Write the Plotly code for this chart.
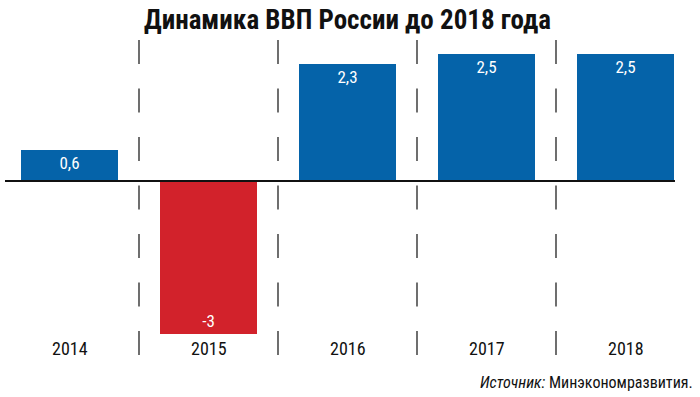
import plotly.graph_objects as go

years = ["2014", "2015", "2016", "2017", "2018"]
values = [0.6, -3, 2.3, 2.5, 2.5]
labels = ["0,6", "-3", "2,3", "2,5", "2,5"]
colors = ["#0563A9" if v >= 0 else "#D2222B" for v in values]

FONT = "Liberation Sans Narrow, Roboto Condensed, DejaVu Sans Condensed, Arial Narrow, sans-serif"

fig = go.Figure()
fig.add_trace(go.Bar(
    x=list(range(len(years))), y=values,
    marker=dict(color=colors, line=dict(width=0)),
    width=0.7,
    text=labels, textposition="inside", insidetextanchor="end",
    textfont=dict(family=FONT, size=17, color="white"),
    cliponaxis=False, hoverinfo="skip",
))

ymin, ymax = -3.43, 2.765
shapes = []
for i in range(len(years) - 1):
    shapes.append(dict(type="line", xref="x", yref="y", x0=i + 0.5, x1=i + 0.5,
                       y0=ymax, y1=ymin, line=dict(color="#222", width=1.3, dash="24px,24.5px")))
shapes.append(dict(type="line", xref="x", yref="y", x0=-0.464, x1=4.356, y0=0, y1=0,
                   line=dict(color="#111", width=2)))

annotations = []
for i, yr in enumerate(years):
    annotations.append(dict(x=i, y=-3.29, xref="x", yref="y", text=yr, showarrow=False,
                            font=dict(family=FONT, size=18, color="#111"), yanchor="middle"))
annotations.append(dict(x=1, y=0, xref="paper", yref="paper", xanchor="right", yanchor="top",
                        yshift=-15, xshift=0, showarrow=False,
                        text="<i>Источник:</i> Минэкономразвития.",
                        font=dict(family=FONT, size=16, color="#111")))

fig.update_layout(
    width=700, height=397,
    margin=dict(l=0, r=5, t=40, b=41),
    paper_bgcolor="white", plot_bgcolor="white",
    title=dict(text="<b>Динамика ВВП России до 2018 года</b>", x=0.5, xanchor="center",
               y=1 - 20 / 397, yanchor="middle", xref="paper",
               font=dict(family=FONT, size=27, color="#111")),
    xaxis=dict(range=[-0.5, 4.5], visible=False),
    yaxis=dict(range=[ymin, ymax], visible=False),
    showlegend=False,
    shapes=shapes, annotations=annotations,
    bargap=0,
)

fig.write_html("out.html")
